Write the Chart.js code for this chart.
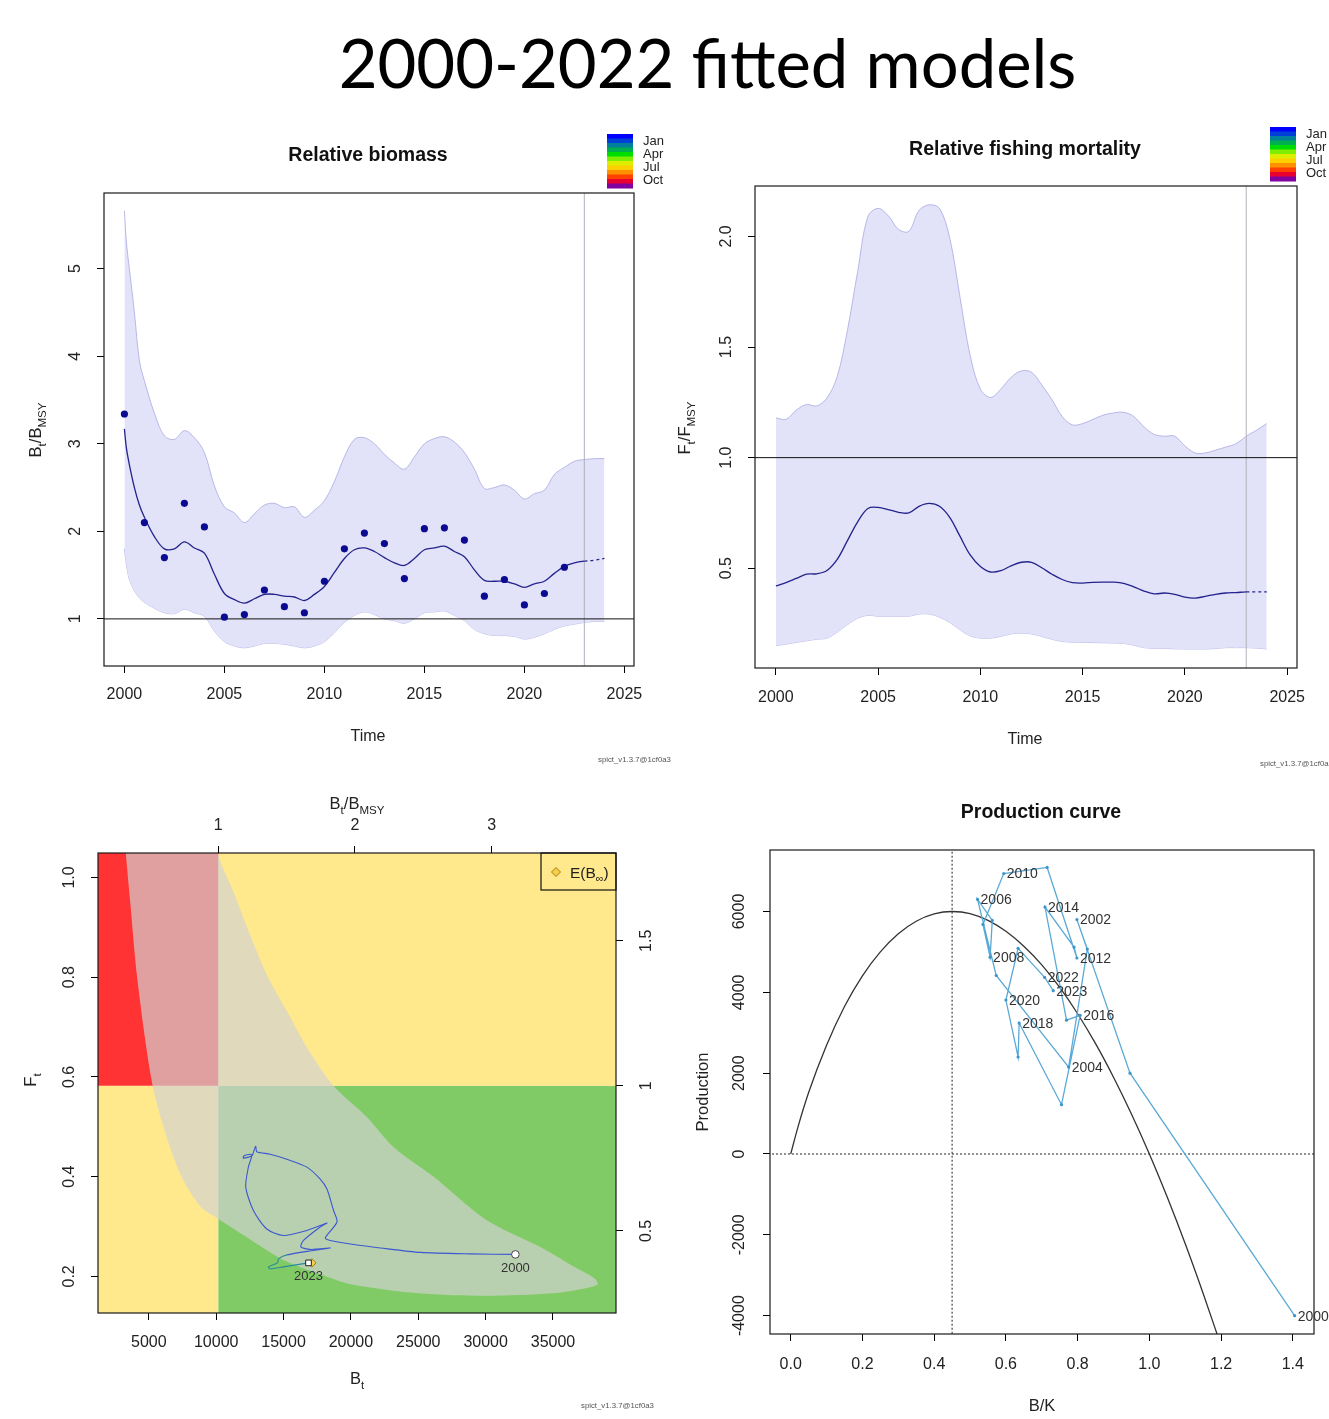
<!DOCTYPE html>
<html>
<head>
<meta charset="utf-8">
<script src="https://cdn.jsdelivr.net/npm/chart.js@4.4.1/dist/chart.umd.min.js"></script>
<style>
  body { margin: 0; background: #fff; width: 1329px; height: 1419px; overflow: hidden; position: relative; }
  canvas { position: absolute; left: 0; top: 0; }
  #title { position: absolute; left: 43px; top: 22px; width: 1329px; text-align: center;
           font: 400 67px Lato, 'Open Sans', sans-serif; line-height: 80px; color: #000; }
</style>
</head>
<body>
<div id="title">2000-2022 fitted models</div>
<canvas id="bio" width="1329" height="1419"></canvas>
<canvas id="fish" width="1329" height="1419"></canvas>
<canvas id="kobe" width="1329" height="1419"></canvas>
<canvas id="prod" width="1329" height="1419"></canvas>
<script>
const SANS = "'Liberation Sans', Arial, Helvetica, sans-serif";
const INK = '#222';
const PAGE_W = 1329, PAGE_H = 1419;

// ---------- Relative biomass (B/Bmsy) ----------
const bioTime = [2000, 2000.1, 2000.25, 2000.5, 2000.75, 2001, 2001.5, 2002, 2002.5, 2003, 2003.5, 2004, 2004.5,
  2005, 2005.5, 2006, 2006.5, 2007, 2007.5, 2008, 2008.5, 2009, 2009.5, 2010, 2010.5, 2011, 2011.5, 2012, 2012.5,
  2013, 2013.5, 2014, 2014.5, 2015, 2015.5, 2016, 2016.5, 2017, 2017.5, 2018, 2018.5, 2019, 2019.5, 2020, 2020.5,
  2021, 2021.5, 2022, 2022.5, 2023, 2023.5, 2024];
const bioFit = [3.17, 2.95, 2.76, 2.50, 2.30, 2.16, 1.94, 1.80, 1.80, 1.88, 1.81, 1.75, 1.51,
  1.29, 1.22, 1.18, 1.23, 1.28, 1.28, 1.26, 1.25, 1.21, 1.28, 1.37, 1.53, 1.69, 1.79, 1.81, 1.77,
  1.70, 1.64, 1.61, 1.69, 1.79, 1.81, 1.83, 1.77, 1.71, 1.56, 1.44, 1.43, 1.43, 1.40, 1.36, 1.40,
  1.43, 1.52, 1.60, 1.64, 1.66, 1.67, 1.69];
const bioUpper = [5.66, 5.30, 5.00, 4.50, 3.95, 3.72, 3.35, 3.09, 3.05, 3.15, 3.07, 2.90, 2.52,
  2.28, 2.21, 2.10, 2.20, 2.30, 2.32, 2.27, 2.28, 2.16, 2.24, 2.35, 2.57, 2.85, 3.05, 3.07, 3.00,
  2.88, 2.78, 2.71, 2.85, 3.00, 3.06, 3.08, 3.02, 2.90, 2.71, 2.49, 2.50, 2.53, 2.47, 2.37, 2.43,
  2.47, 2.65, 2.73, 2.80, 2.82, 2.83, 2.83];
const bioLower = [1.80, 1.62, 1.45, 1.32, 1.24, 1.19, 1.12, 1.07, 1.06, 1.11, 1.07, 1.03, 0.86,
  0.74, 0.69, 0.67, 0.69, 0.72, 0.72, 0.71, 0.69, 0.67, 0.69, 0.74, 0.84, 0.96, 1.04, 1.08, 1.05,
  1.00, 0.98, 0.95, 1.00, 1.07, 1.08, 1.09, 1.04, 0.98, 0.88, 0.83, 0.81, 0.81, 0.80, 0.77, 0.79,
  0.83, 0.88, 0.92, 0.94, 0.96, 0.97, 0.97];
const bioObsYears = [2000, 2001, 2002, 2003, 2004, 2005, 2006, 2007, 2008, 2009, 2010, 2011,
  2012, 2013, 2014, 2015, 2016, 2017, 2018, 2019, 2020, 2021, 2022];
const bioObs = [3.34, 2.10, 1.70, 2.32, 2.05, 1.02, 1.05, 1.33, 1.14, 1.07, 1.43, 1.80,
  1.98, 1.86, 1.46, 2.03, 2.04, 1.90, 1.26, 1.45, 1.16, 1.29, 1.59];

// ---------- Relative fishing mortality (F/Fmsy) ----------
const fishTime = [2000, 2000.5, 2001, 2001.5, 2002, 2002.5, 2003, 2003.5, 2004, 2004.5, 2005, 2005.5,
  2006, 2006.5, 2007, 2007.5, 2008, 2008.5, 2009, 2009.5, 2010, 2010.5, 2011, 2011.5, 2012, 2012.5,
  2013, 2013.5, 2014, 2014.5, 2015, 2015.5, 2016, 2016.5, 2017, 2017.5, 2018, 2018.5, 2019, 2019.5,
  2020, 2020.5, 2021, 2021.5, 2022, 2022.5, 2023, 2023.5, 2024];
const fishFit = [0.42, 0.435, 0.454, 0.473, 0.475, 0.49, 0.54, 0.625, 0.71, 0.77, 0.775, 0.765,
  0.753, 0.75, 0.78, 0.793, 0.78, 0.73, 0.645, 0.56, 0.508, 0.483, 0.489, 0.511, 0.527, 0.527,
  0.502, 0.473, 0.449, 0.435, 0.433, 0.436, 0.437, 0.437, 0.432, 0.416, 0.397, 0.384, 0.388, 0.382,
  0.369, 0.365, 0.373, 0.382, 0.388, 0.39, 0.393, 0.393, 0.393];
const fishUpper = [1.18, 1.173, 1.215, 1.24, 1.234, 1.27, 1.367, 1.576, 1.842, 2.09, 2.127, 2.093,
  2.032, 2.023, 2.118, 2.143, 2.127, 1.994, 1.728, 1.462, 1.31, 1.272, 1.31, 1.363, 1.392, 1.386,
  1.329, 1.262, 1.186, 1.148, 1.154, 1.173, 1.192, 1.202, 1.205, 1.186, 1.139, 1.105, 1.097, 1.097,
  1.053, 1.021, 1.021, 1.034, 1.048, 1.063, 1.097, 1.124, 1.154];
const fishLower = [0.15, 0.157, 0.165, 0.172, 0.179, 0.184, 0.211, 0.245, 0.274, 0.287, 0.283, 0.283,
  0.283, 0.283, 0.293, 0.293, 0.279, 0.255, 0.222, 0.194, 0.184, 0.184, 0.192, 0.203, 0.207, 0.203,
  0.192, 0.179, 0.169, 0.166, 0.165, 0.164, 0.163, 0.162, 0.16, 0.152, 0.141, 0.138, 0.137, 0.136,
  0.135, 0.135, 0.135, 0.137, 0.141, 0.141, 0.141, 0.139, 0.135];

const yearTicks = [2000, 2005, 2010, 2015, 2020, 2025];
const bioTicks = [1, 2, 3, 4, 5];
const fishTicks = [0.5, 1.0, 1.5, 2.0];
const LAST_DATA_YEAR = 2023;

// ---------- Kobe plot (B vs F) ----------
const BMSY = 10150;
const FMSY = 0.582;
const E_BINF = 17100;
const kobeBTicks = [5000, 10000, 15000, 20000, 25000, 30000, 35000];
const kobeFTicks = [0.2, 0.4, 0.6, 0.8, 1.0];
const kobeRelBTicks = [1, 2, 3];
const kobeRelFTicks = [0.5, 1, 1.5];
const trajB = [32208, 28882, 25162, 22186, 20201, 18466, 18094, 18965, 18712, 18221, 17722, 16733,
  15245, 14002, 13013, 12938, 12812, 12663, 12016, 12068, 12641, 12388, 12194, 12760, 13757, 14992,
  16733, 18221, 17722, 16480, 16286, 16978, 18466, 17226, 15245, 14620, 14546, 13876, 14002, 14992, 16852];
const trajF = [0.244, 0.245, 0.248, 0.257, 0.264, 0.272, 0.277, 0.309, 0.332, 0.375, 0.395, 0.419,
  0.435, 0.445, 0.450, 0.461, 0.453, 0.442, 0.437, 0.442, 0.444, 0.419, 0.379, 0.332, 0.295, 0.282,
  0.292, 0.307, 0.299, 0.272, 0.259, 0.254, 0.257, 0.252, 0.243, 0.235, 0.227, 0.219, 0.215, 0.219, 0.227];
// confidence region outline: down the left/lower edge to the tip, back along the upper edge
const bananaB = [3150, 3290, 3620, 4130, 5160, 6060, 7420, 8870, 10000, 12580, 15000, 17740, 20000,
  25000, 30000, 35000, 37420, 38320, 38060, 36770, 34190, 30000, 26130, 23176, 21197, 18712, 16733,
  15245, 13757, 12514, 11272, 10156, 10000];
const bananaF = [1.10, 1.049, 0.95, 0.80, 0.60, 0.502, 0.40, 0.339, 0.318, 0.273, 0.233, 0.204, 0.184,
  0.166, 0.161, 0.166, 0.176, 0.184, 0.196, 0.216, 0.257, 0.314, 0.40, 0.459, 0.519, 0.582, 0.659,
  0.732, 0.805, 0.885, 0.972, 1.045, 1.10];

// ---------- Production curve ----------
const BMSY_K = 0.45;
const curveBK = [0, 0.02, 0.05, 0.1, 0.15, 0.2, 0.25, 0.3, 0.35, 0.4, 0.45, 0.5, 0.55, 0.6, 0.65,
  0.7, 0.75, 0.8, 0.85, 0.9, 0.95, 1.0, 1.05, 1.1, 1.15, 1.2];
const curveP = [0, 660, 1520, 2690, 3650, 4410, 5000, 5450, 5760, 5940, 6000, 5950, 5780, 5510, 5140,
  4680, 4120, 3470, 2730, 1900, 990, 0, -1070, -2220, -3450, -4750];
const prodYears = [2000, 2001, 2002, 2003, 2004, 2005, 2006, 2007, 2008, 2009, 2010, 2011,
  2012, 2013, 2014, 2015, 2016, 2017, 2018, 2019, 2020, 2021, 2022, 2023];
const prodBK = [1.405, 0.946, 0.798, 0.827, 0.775, 0.573, 0.521, 0.562, 0.556, 0.536, 0.594, 0.715,
  0.798, 0.790, 0.709, 0.769, 0.807, 0.755, 0.637, 0.634, 0.600, 0.634, 0.708, 0.732];
const prodP = [-4000, 2000, 5800, 5070, 2150, 4417, 6300, 5780, 4870, 5680, 6940, 7090,
  4850, 5120, 6110, 3310, 3430, 1220, 3240, 2400, 3810, 5090, 4370, 4040];
const prodXTicks = [0, 0.2, 0.4, 0.6, 0.8, 1.0, 1.2, 1.4];
const prodYTicks = [-4000, -2000, 0, 2000, 4000, 6000];

const monthColors = ['#0000ff', '#0040d8', '#00809a', '#00b050', '#00dd00', '#80ee00',
  '#ddee00', '#ffd000', '#ff9000', '#ff4000', '#e80030', '#8000a0'];
const monthLabels = ['Jan', 'Apr', 'Jul', 'Oct'];

Chart.defaults.font.family = SANS;
Chart.defaults.animation = false;

// ---------- helpers ----------
const pts = (xs, ys) => xs.map((x, i) => ({x, y: ys[i]}));

function tickAxis(o) {
  const vertical = o.pos === 'left' || o.pos === 'right';
  return {
    type: 'linear',
    position: o.pos,
    min: o.min,
    max: o.max,
    afterBuildTicks: s => { s.ticks = o.ticks.map(v => ({value: v})); },
    afterFit: s => { if (vertical) s.width = 40; else s.height = 40; },
    grid: {display: true, drawOnChartArea: false, drawTicks: true, tickLength: 7, tickColor: '#000', tickWidth: 1},
    border: {display: false},
    ticks: {
      font: {family: SANS, size: o.size || 16},
      color: INK,
      padding: o.pad,
      autoSkip: false,
      minRotation: vertical ? 90 : 0,
      maxRotation: vertical ? 90 : 0,
      crossAlign: vertical ? 'center' : 'near',
      callback: o.fmt || (v => String(v))
    }
  };
}

function pad(box, sides) {
  return {
    left: box.left - (sides.left ? 40 : 0),
    right: PAGE_W - box.right - (sides.right ? 40 : 0),
    top: box.top - (sides.top ? 40 : 0),
    bottom: PAGE_H - box.bottom - (sides.bottom ? 40 : 0)
  };
}

function richText(ctx, x, y, parts, size, o = {}) {
  ctx.save();
  ctx.translate(x, y);
  if (o.rotate) ctx.rotate(-Math.PI / 2);
  const weight = o.bold ? 'bold ' : '';
  const fontOf = sub => weight + (sub ? size * 0.7 : size) + 'px ' + SANS;
  let total = 0;
  const widths = parts.map(([t, sub]) => {
    ctx.font = fontOf(sub);
    const w = ctx.measureText(t).width;
    total += w;
    return w;
  });
  let cx = o.align === 'left' ? 0 : -total / 2;
  ctx.fillStyle = o.color || INK;
  ctx.textAlign = 'left';
  ctx.textBaseline = 'alphabetic';
  parts.forEach(([t, sub], i) => {
    ctx.font = fontOf(sub);
    ctx.fillText(t, cx, size * 0.36 + (sub ? size * 0.3 : 0));
    cx += widths[i];
  });
  ctx.restore();
}

function colorBar(ctx, x, y, w, h, textX) {
  const bh = h / monthColors.length;
  monthColors.forEach((c, i) => {
    ctx.fillStyle = c;
    ctx.fillRect(x, y + i * bh, w, bh + 0.5);
  });
  ctx.fillStyle = INK;
  ctx.font = '13px ' + SANS;
  ctx.textAlign = 'left';
  ctx.textBaseline = 'middle';
  monthLabels.forEach((m, i) => ctx.fillText(m, textX, y + 7 + i * 13));
}

function stamp(ctx, x, y) {
  ctx.fillStyle = '#555';
  ctx.font = '7.8px ' + SANS;
  ctx.textAlign = 'left';
  ctx.textBaseline = 'middle';
  ctx.fillText('spict_v1.3.7@1cf0a3', x, y);
}

const framePlugin = {
  id: 'frame',
  afterDatasetsDraw(chart) {
    const {ctx, chartArea: a} = chart;
    ctx.save();
    ctx.strokeStyle = '#1a1a1a';
    ctx.lineWidth = 1.2;
    ctx.strokeRect(a.left, a.top, a.right - a.left, a.bottom - a.top);
    ctx.restore();
  }
};

function decor(fn) {
  return {id: 'decor', afterDraw(chart) { const ctx = chart.ctx; ctx.save(); fn(chart, ctx); ctx.restore(); }};
}

const baseOptions = (padding, scales) => ({
  responsive: false,
  animation: false,
  events: [],
  layout: {padding},
  plugins: {legend: {display: false}, tooltip: {enabled: false}, title: {display: false}},
  scales
});

// ---------- Panel 1: relative biomass ----------
const bioBox = {left: 104, right: 634, top: 193, bottom: 666};
new Chart(document.getElementById('bio'), {
  type: 'line',
  data: {
    datasets: [
      {data: pts(bioTime, bioUpper), borderColor: 'rgba(160,160,225,0.7)', borderWidth: 1,
       backgroundColor: '#e2e2f8', fill: '+1', pointRadius: 0, tension: 0.35, order: 6},
      {data: pts(bioTime, bioLower), borderColor: 'rgba(160,160,225,0.7)', borderWidth: 1,
       fill: false, pointRadius: 0, tension: 0.35, order: 6},
      {data: [{x: LAST_DATA_YEAR, y: -10}, {x: LAST_DATA_YEAR, y: 10}], borderColor: 'rgba(175,175,185,0.8)',
       borderWidth: 1.2, pointRadius: 0, order: 5},
      {data: [{x: 1990, y: 1}, {x: 2030, y: 1}], borderColor: '#111', borderWidth: 1, pointRadius: 0, order: 4},
      {data: pts(bioTime, bioFit), borderColor: '#23238c', borderWidth: 1.3, pointRadius: 0, tension: 0.35,
       segment: {borderDash: c => c.p0.parsed.x >= LAST_DATA_YEAR ? [3, 3] : undefined}, order: 2},
      {data: pts(bioObsYears, bioObs), showLine: false, pointRadius: 3.6, pointBackgroundColor: '#0b0b92',
       pointBorderWidth: 0, order: 1}
    ]
  },
  options: baseOptions(pad(bioBox, {left: 1, bottom: 1}), {
    x: tickAxis({pos: 'bottom', min: 1998.98, max: 2025.48, ticks: yearTicks, pad: 12}),
    y: tickAxis({pos: 'left', min: 0.462, max: 5.864, ticks: bioTicks, pad: 17})
  }),
  plugins: [framePlugin, decor((chart, ctx) => {
    richText(ctx, 368, 154, [['Relative biomass']], 19.5, {bold: true, color: '#111'});
    richText(ctx, 368, 735, [['Time']], 16);
    richText(ctx, 35, 430, [['B'], ['t', 1], ['/'], ['B'], ['MSY', 1]], 16.5, {rotate: true});
    colorBar(ctx, 607, 134, 26, 54, 643);
    stamp(ctx, 598, 760);
  })]
});

// ---------- Panel 2: relative fishing mortality ----------
const fishBox = {left: 755, right: 1297, top: 186, bottom: 668};
new Chart(document.getElementById('fish'), {
  type: 'line',
  data: {
    datasets: [
      {data: pts(fishTime, fishUpper), borderColor: 'rgba(160,160,225,0.7)', borderWidth: 1,
       backgroundColor: '#e2e2f8', fill: '+1', pointRadius: 0, tension: 0.35, order: 6},
      {data: pts(fishTime, fishLower), borderColor: 'rgba(160,160,225,0.7)', borderWidth: 1,
       fill: false, pointRadius: 0, tension: 0.35, order: 6},
      {data: [{x: LAST_DATA_YEAR, y: -10}, {x: LAST_DATA_YEAR, y: 10}], borderColor: 'rgba(175,175,185,0.8)',
       borderWidth: 1.2, pointRadius: 0, order: 5},
      {data: [{x: 1990, y: 1}, {x: 2030, y: 1}], borderColor: '#111', borderWidth: 1, pointRadius: 0, order: 4},
      {data: pts(fishTime, fishFit), borderColor: '#23238c', borderWidth: 1.3, pointRadius: 0, tension: 0.35,
       segment: {borderDash: c => c.p0.parsed.x >= LAST_DATA_YEAR ? [3, 3] : undefined}, order: 2}
    ]
  },
  options: baseOptions(pad(fishBox, {left: 1, bottom: 1}), {
    x: tickAxis({pos: 'bottom', min: 1998.98, max: 2025.48, ticks: yearTicks, pad: 13}),
    y: tickAxis({pos: 'left', min: 0.049, max: 2.228, ticks: fishTicks, pad: 10, fmt: v => v.toFixed(1)})
  }),
  plugins: [framePlugin, decor((chart, ctx) => {
    richText(ctx, 1025, 148, [['Relative fishing mortality']], 19.5, {bold: true, color: '#111'});
    richText(ctx, 1025, 738, [['Time']], 16);
    richText(ctx, 684, 428, [['F'], ['t', 1], ['/'], ['F'], ['MSY', 1]], 16.5, {rotate: true});
    colorBar(ctx, 1270, 127, 26, 54, 1306);
    stamp(ctx, 1260, 764);
  })]
});

// ---------- Panel 3: Kobe plot ----------
const kobeBox = {left: 98, right: 616, top: 853, bottom: 1313};
const rect = (x0, x1, y0, y1) => [{x: x0, y: y0}, {x: x1, y: y0}, {x: x1, y: y1}, {x: x0, y: y1}];
const zone = (data, color) => ({data, fill: 'shape', backgroundColor: color, borderColor: 'transparent',
  borderWidth: 0, pointRadius: 0, tension: 0, clip: 0, order: 10});
const lastIdx = trajB.length - 1;
new Chart(document.getElementById('kobe'), {
  type: 'line',
  data: {
    datasets: [
      zone(rect(0, BMSY, FMSY, 2), '#ff3333'),
      zone(rect(0, BMSY, 0, FMSY), '#ffe98c'),
      zone(rect(BMSY, 60000, FMSY, 2), '#ffe98c'),
      zone(rect(BMSY, 60000, 0, FMSY), '#80cb66'),
      {data: pts(bananaB, bananaF), fill: 'shape', backgroundColor: 'rgba(210,210,210,0.69)',
       borderColor: 'transparent', borderWidth: 0, pointRadius: 0, tension: 0.3, order: 9},
      {data: pts(trajB, trajF), borderColor: '#3a58cf', borderWidth: 1.1, pointRadius: 0, tension: 0.25,
       segment: {borderColor: c => c.p0DataIndex >= 34 ? '#2b8a9c' : undefined}, order: 3},
      {data: [{x: trajB[0], y: trajF[0]}], showLine: false, pointStyle: 'circle', pointRadius: 3.8,
       pointBackgroundColor: '#fff', pointBorderColor: '#444', pointBorderWidth: 1, order: 2},
      {data: [{x: E_BINF, y: trajF[lastIdx]}], showLine: false, pointStyle: 'rectRot', pointRadius: 4.2,
       pointBackgroundColor: '#f3cf4f', pointBorderColor: '#a88000', pointBorderWidth: 1, order: 1},
      {data: [{x: trajB[lastIdx], y: trajF[lastIdx]}], showLine: false, pointStyle: 'rect', pointRadius: 4,
       pointBackgroundColor: '#fff', pointBorderColor: '#222', pointBorderWidth: 1, order: 0}
    ]
  },
  options: baseOptions(pad(kobeBox, {left: 1, bottom: 1, top: 1, right: 1}), {
    x: tickAxis({pos: 'bottom', min: 1226, max: 39677, ticks: kobeBTicks, pad: 13}),
    x2: tickAxis({pos: 'top', min: 1226 / BMSY, max: 39677 / BMSY, ticks: kobeRelBTicks, pad: 11}),
    y: tickAxis({pos: 'left', min: 0.1265, max: 1.049, ticks: kobeFTicks, pad: 10, fmt: v => v.toFixed(1)}),
    y2: tickAxis({pos: 'right', min: 0.1265 / FMSY, max: 1.049 / FMSY, ticks: kobeRelFTicks, pad: 12})
  }),
  plugins: [framePlugin, decor((chart, ctx) => {
    const start = chart.getDatasetMeta(6).data[0];
    const end = chart.getDatasetMeta(8).data[0];
    ctx.fillStyle = '#333';
    ctx.font = '13px ' + SANS;
    ctx.textAlign = 'center';
    ctx.textBaseline = 'middle';
    ctx.fillText('2000', start.x, start.y + 14);
    ctx.fillText('2023', end.x, end.y + 14);

    richText(ctx, 357, 803, [['B'], ['t', 1], ['/'], ['B'], ['MSY', 1]], 16.5);
    richText(ctx, 30, 1080, [['F'], ['t', 1]], 16.5, {rotate: true});
    richText(ctx, 357, 1378, [['B'], ['t', 1]], 16.5);

    // legend E(B_inf)
    const a = chart.chartArea;
    ctx.strokeStyle = '#111';
    ctx.lineWidth = 1.2;
    ctx.strokeRect(a.right - 75, a.top, 75, 37);
    const dx = a.right - 60, dy = a.top + 19;
    ctx.beginPath();
    ctx.moveTo(dx, dy - 4.5); ctx.lineTo(dx + 4.5, dy); ctx.lineTo(dx, dy + 4.5); ctx.lineTo(dx - 4.5, dy);
    ctx.closePath();
    ctx.fillStyle = '#f3cf4f'; ctx.fill();
    ctx.strokeStyle = '#a88000'; ctx.lineWidth = 1; ctx.stroke();
    richText(ctx, a.right - 46, dy, [['E(B'], ['\u221E', 1], [')']], 15.5, {align: 'left'});
    stamp(ctx, 581, 1406);
  })]
});

// ---------- Panel 4: production curve ----------
const prodBox = {left: 770, right: 1314, top: 850, bottom: 1334};
new Chart(document.getElementById('prod'), {
  type: 'line',
  data: {
    datasets: [
      {data: [{x: -1, y: 0}, {x: 2, y: 0}], borderColor: '#222', borderWidth: 1, borderDash: [2, 2],
       pointRadius: 0, order: 4},
      {data: [{x: BMSY_K, y: -9000}, {x: BMSY_K, y: 9000}], borderColor: '#222', borderWidth: 1,
       borderDash: [2, 2], pointRadius: 0, order: 4},
      {data: pts(curveBK, curveP), borderColor: '#333', borderWidth: 1.3, pointRadius: 0,
       cubicInterpolationMode: 'monotone', order: 3},
      {data: pts(prodBK, prodP), borderColor: '#5aa9d6', borderWidth: 1.3, pointRadius: 1.6,
       pointBackgroundColor: '#3d95c8', pointBorderWidth: 0, tension: 0, order: 1}
    ]
  },
  options: baseOptions(pad(prodBox, {left: 1, bottom: 1}), {
    x: tickAxis({pos: 'bottom', min: -0.0577, max: 1.459, ticks: prodXTicks, pad: 14, fmt: v => v.toFixed(1)}),
    y: tickAxis({pos: 'left', min: -4454, max: 7522, ticks: prodYTicks, pad: 3})
  }),
  plugins: [framePlugin, decor((chart, ctx) => {
    const meta = chart.getDatasetMeta(3);
    ctx.fillStyle = '#333';
    ctx.font = '14px ' + SANS;
    ctx.textAlign = 'left';
    ctx.textBaseline = 'middle';
    prodYears.forEach((yr, i) => {
      if (yr % 2 === 0 || i === prodYears.length - 1) {
        const p = meta.data[i];
        ctx.fillText(String(yr), p.x + 3, p.y + 1);
      }
    });
    richText(ctx, 1041, 811, [['Production curve']], 19.5, {bold: true, color: '#111'});
    richText(ctx, 1042, 1405, [['B/K']], 16.5);
    richText(ctx, 702, 1092, [['Production']], 16.5, {rotate: true});
  })]
});
</script>
</body>
</html>
